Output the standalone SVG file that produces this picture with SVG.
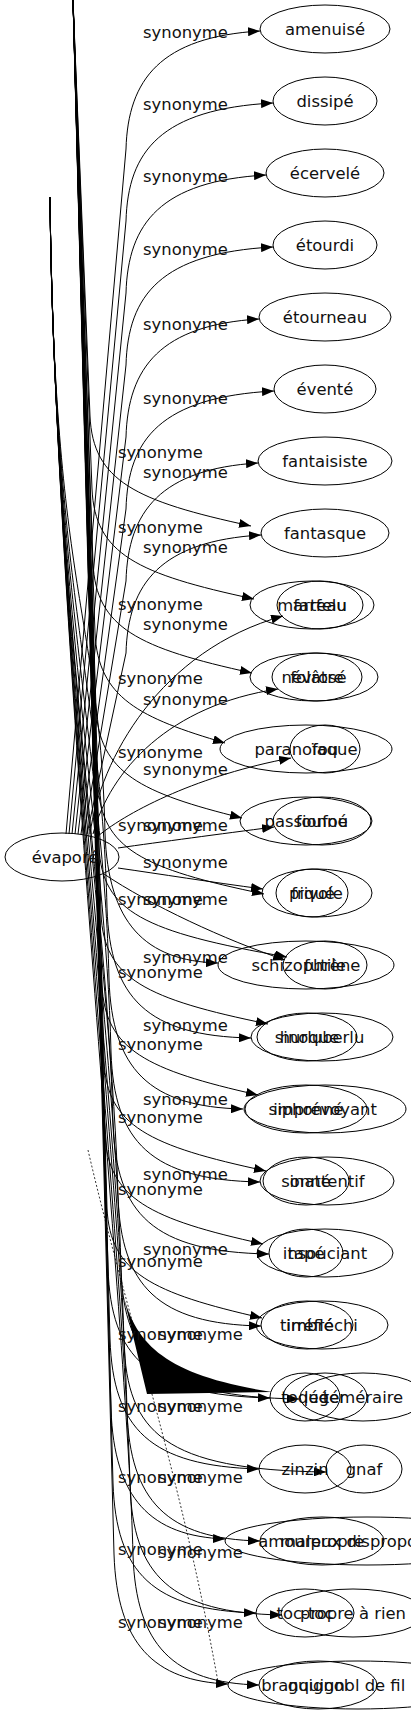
<svg xmlns="http://www.w3.org/2000/svg" width="411" height="1715" viewBox="0 0 411 1715">
<defs>
<marker id="a" markerWidth="12" markerHeight="9" refX="12" refY="4.5" orient="auto" markerUnits="userSpaceOnUse"><path d="M0,0 L12,4.5 L0,9 z" fill="#000"/></marker>
<style>
.e{fill:none;stroke:#000;stroke-width:1;marker-end:url(#a)}
.d{fill:none;stroke:#000;stroke-width:0.8;stroke-dasharray:2,2}
ellipse{fill:none;stroke:#000;stroke-width:1}
text{font-family:"DejaVu Sans","Liberation Sans",sans-serif;font-size:16.4px;fill:#111}
.n text{text-anchor:middle}
</style>
</defs>
<rect width="411" height="1715" fill="#fff"/>
<g id="edges">
<path class="e" d="M66,834 L126,149 C128,79 161,37 260,31"/>
<path class="e" d="M69,834 L126,221 C128,151 161,109 273,103"/>
<path class="e" d="M72,834 L126,293 C128,223 161,181 266,175"/>
<path class="e" d="M75,834 L126,365 C128,295 161,253 273,247"/>
<path class="e" d="M78,834 L126,437 C128,367 161,325 259,319"/>
<path class="e" d="M81,834 L126,509 C128,439 161,397 274,391"/>
<path class="e" d="M84,834 L126,581 C128,511 161,469 258,463"/>
<path class="e" d="M87,834 L126,653 C128,583 161,541 261,535"/>
<path class="e" d="M90,834 C100,760 160,650 283,616"/>
<path class="e" d="M93,834 C110,770 170,705 278,689"/>
<path class="e" d="M98,836 C130,810 200,775 291,758"/>
<path class="e" d="M118,848 C160,842 220,834 274,827"/>
<path class="e" d="M118,868 C160,874 210,882 263,889"/>
<path class="e" d="M104,874 C150,905 225,940 285,960"/>
<path class="e" d="M73,0 L90,416 C93,481 135,501 251,526"/>
<path class="e" d="M73,0 L92,489 C95,554 137,574 254,599"/>
<path class="e" d="M73,0 L93,563 C96,628 138,648 252,673"/>
<path class="e" d="M73,0 L95,633 C98,698 140,718 225,743"/>
<path class="e" d="M73,0 L96,708 C99,773 141,793 242,818"/>
<path class="e" d="M73,0 L98,784 C101,849 143,869 264,894"/>
<path class="e" d="M73,0 L99,847 C102,912 144,932 287,957"/>
<path class="e" d="M73,0 L101,914 C104,979 146,999 268,1024"/>
<path class="e" d="M73,0 L102,985 C105,1050 147,1070 258,1095"/>
<path class="e" d="M73,0 L104,1061 C107,1126 149,1146 266,1171"/>
<path class="e" d="M73,0 L105,1134 C108,1199 150,1219 263,1244"/>
<path class="e" d="M73,0 L107,1208 C110,1273 152,1293 262,1318"/>
<path class="e" d="M73,0 L108,1268 C111,1358 148,1395 270,1398"/>
<path class="e" d="M73,0 L110,1339 C113,1429 150,1466 259,1469"/>
<path class="e" d="M73,0 L111,1409 C114,1499 151,1536 225,1539"/>
<path class="e" d="M73,0 L113,1483 C116,1573 153,1610 256,1613"/>
<path class="e" d="M73,0 L114,1554 C117,1644 154,1681 228,1684"/>
<path class="e" d="M50,197 C54,600 100,613 105,833 C108,923 145,961 218,963"/>
<path class="e" d="M50,197 C54,600 102,688 107,908 C110,998 147,1036 251,1038"/>
<path class="e" d="M50,197 C54,600 104,759 109,979 C112,1069 149,1107 243,1109"/>
<path class="e" d="M50,197 C54,600 106,832 111,1052 C114,1142 151,1180 260,1182"/>
<path class="e" d="M50,197 C54,600 108,904 113,1124 C116,1214 153,1252 269,1254"/>
<path class="e" d="M50,197 C54,600 113,976 118,1196 C121,1286 158,1324 261,1326"/>
<path class="e" d="M50,197 C54,600 116,1049 121,1269 C124,1359 161,1397 299,1399"/>
<path class="e" d="M50,197 C54,600 119,1122 124,1342 C127,1432 164,1470 326,1472"/>
<path class="e" d="M50,197 C54,600 122,1191 127,1411 C130,1501 167,1539 260,1541"/>
<path class="e" d="M50,197 C54,600 125,1265 130,1485 C133,1575 170,1613 282,1615"/>
<path class="e" d="M50,197 C54,600 128,1335 133,1555 C136,1645 173,1683 259,1685"/>
<path d="M122,1290 C135,1345 165,1375 272,1392 L147,1394 Z" fill="#000"/>
<path class="d" d="M88,1150 C125,1310 180,1470 218,1682"/>
</g>
<g id="edge-labels">
<text x="143" y="38">synonyme</text>
<text x="143" y="110">synonyme</text>
<text x="143" y="182">synonyme</text>
<text x="143" y="255">synonyme</text>
<text x="143" y="330">synonyme</text>
<text x="143" y="404">synonyme</text>
<text x="143" y="478">synonyme</text>
<text x="143" y="553">synonyme</text>
<text x="143" y="630">synonyme</text>
<text x="143" y="705">synonyme</text>
<text x="143" y="775">synonyme</text>
<text x="143" y="831">synonyme</text>
<text x="143" y="868">synonyme</text>
<text x="143" y="905">synonyme</text>
<text x="143" y="963">synonyme</text>
<text x="143" y="1031">synonyme</text>
<text x="143" y="1105">synonyme</text>
<text x="143" y="1180">synonyme</text>
<text x="143" y="1255">synonyme</text>
<text x="118" y="458">synonyme</text>
<text x="118" y="533">synonyme</text>
<text x="118" y="610">synonyme</text>
<text x="118" y="684">synonyme</text>
<text x="118" y="758">synonyme</text>
<text x="118" y="831">synonyme</text>
<text x="118" y="905">synonyme</text>
<text x="118" y="978">synonyme</text>
<text x="118" y="1050">synonyme</text>
<text x="118" y="1123">synonyme</text>
<text x="118" y="1195">synonyme</text>
<text x="118" y="1267">synonyme</text>
<text x="118" y="1340">synonyme</text>
<text x="118" y="1412">synonyme</text>
<text x="118" y="1483">synonyme</text>
<text x="118" y="1555">synonyme</text>
<text x="118" y="1628">synonyme</text>
<text x="158" y="1340">synonyme</text>
<text x="158" y="1412">synonyme</text>
<text x="158" y="1483">synonyme</text>
<text x="158" y="1558">synonyme</text>
<text x="158" y="1628">synonyme</text>
</g>
<g id="evapore" class="n"><ellipse cx="62" cy="857" rx="57" ry="24"/><text x="65" y="863">évaporé</text></g>
<g id="amenuise" class="n"><ellipse cx="325" cy="29" rx="65" ry="24"/><text x="325" y="35">amenuisé</text></g>
<g id="dissipe" class="n"><ellipse cx="325" cy="101" rx="52" ry="24"/><text x="325" y="107">dissipé</text></g>
<g id="ecervele" class="n"><ellipse cx="325" cy="173" rx="59" ry="24"/><text x="325" y="179">écervelé</text></g>
<g id="etourdi" class="n"><ellipse cx="325" cy="245" rx="52" ry="24"/><text x="325" y="251">étourdi</text></g>
<g id="etourneau" class="n"><ellipse cx="325" cy="317" rx="66" ry="24"/><text x="325" y="323">étourneau</text></g>
<g id="evente" class="n"><ellipse cx="325" cy="389" rx="51" ry="24"/><text x="325" y="395">éventé</text></g>
<g id="fantaisiste" class="n"><ellipse cx="325" cy="461" rx="67" ry="24"/><text x="325" y="467">fantaisiste</text></g>
<g id="fantasque" class="n"><ellipse cx="325" cy="533" rx="64" ry="24"/><text x="325" y="539">fantasque</text></g>
<g id="marteau" class="n"><ellipse cx="312" cy="605" rx="62" ry="24"/><text x="312" y="611">marteau</text></g>
<g id="farfelu" class="n"><ellipse cx="320" cy="605" rx="43" ry="24"/><text x="320" y="611">farfelu</text></g>
<g id="nevrose" class="n"><ellipse cx="314" cy="677" rx="64" ry="24"/><text x="314" y="683">névrosé</text></g>
<g id="folatre" class="n"><ellipse cx="317" cy="677" rx="45" ry="24"/><text x="317" y="683">folâtre</text></g>
<g id="paranoiaque" class="n"><ellipse cx="306" cy="749" rx="86" ry="24"/><text x="306" y="755">paranoïaque</text></g>
<g id="fou" class="n"><ellipse cx="325" cy="749" rx="35" ry="24"/><text x="325" y="755">fou</text></g>
<g id="passionne" class="n"><ellipse cx="306" cy="821" rx="66" ry="24"/><text x="306" y="827">passionné</text></g>
<g id="foufou" class="n"><ellipse cx="322" cy="821" rx="49" ry="24"/><text x="322" y="827">foufou</text></g>
<g id="frivole" class="n"><ellipse cx="317" cy="893" rx="55" ry="24"/><text x="317" y="899">frivole</text></g>
<g id="pique" class="n"><ellipse cx="312" cy="893" rx="36" ry="24"/><text x="312" y="899">piqué</text></g>
<g id="schizophrene" class="n"><ellipse cx="306" cy="965" rx="88" ry="24"/><text x="306" y="971">schizophrène</text></g>
<g id="futile" class="n"><ellipse cx="325" cy="965" rx="42" ry="24"/><text x="325" y="971">futile</text></g>
<g id="hurluberlu" class="n"><ellipse cx="322" cy="1037" rx="71" ry="24"/><text x="322" y="1043">hurluberlu</text></g>
<g id="sinoque" class="n"><ellipse cx="307" cy="1037" rx="50" ry="24"/><text x="307" y="1043">sinoque</text></g>
<g id="imprevoyant" class="n"><ellipse cx="325" cy="1109" rx="81" ry="24"/><text x="325" y="1115">imprévoyant</text></g>
<g id="siphonne" class="n"><ellipse cx="306" cy="1109" rx="61" ry="24"/><text x="306" y="1115">siphonné</text></g>
<g id="inattentif" class="n"><ellipse cx="327" cy="1181" rx="67" ry="24"/><text x="327" y="1187">inattentif</text></g>
<g id="sonne" class="n"><ellipse cx="306" cy="1181" rx="43" ry="24"/><text x="306" y="1187">sonné</text></g>
<g id="insouciant" class="n"><ellipse cx="325" cy="1253" rx="68" ry="24"/><text x="325" y="1259">insouciant</text></g>
<g id="tape" class="n"><ellipse cx="306" cy="1253" rx="37" ry="24"/><text x="306" y="1259">tapé</text></g>
<g id="irreflechi" class="n"><ellipse cx="322" cy="1325" rx="66" ry="24"/><text x="322" y="1331">irréfléchi</text></g>
<g id="timbre" class="n"><ellipse cx="307" cy="1325" rx="46" ry="24"/><text x="307" y="1331">timbré</text></g>
<g id="toque" class="n"><ellipse cx="305" cy="1397" rx="35" ry="24"/><text x="305" y="1403">toqué</text></g>
<g id="leger" class="n"><ellipse cx="325" cy="1397" rx="42" ry="24"/><text x="325" y="1403">léger</text></g>
<g id="temeraire" class="n"><ellipse cx="363" cy="1397" rx="63" ry="24"/><text x="363" y="1403">téméraire</text></g>
<g id="zinzin" class="n"><ellipse cx="305" cy="1469" rx="46" ry="24"/><text x="305" y="1475">zinzin</text></g>
<g id="gnaf" class="n"><ellipse cx="364" cy="1469" rx="38" ry="24"/><text x="364" y="1475">gnaf</text></g>
<g id="amoureux" class="n"><ellipse cx="367" cy="1541" rx="142" ry="24"/><text x="367" y="1547">amoureux disproportionné</text></g>
<g id="malpropre" class="n"><ellipse cx="322" cy="1541" rx="62" ry="24"/><text x="322" y="1547">malpropre</text></g>
<g id="toctoc" class="n"><ellipse cx="305" cy="1613" rx="49" ry="24"/><text x="305" y="1619">toc-toc</text></g>
<g id="propre" class="n"><ellipse cx="353" cy="1613" rx="72" ry="24"/><text x="353" y="1619">propre à rien</text></g>
<g id="branquignol" class="n"><ellipse cx="358" cy="1685" rx="130" ry="24"/><text x="358" y="1691">branquignol de fil blanc</text></g>
<g id="guignol" class="n"><ellipse cx="318" cy="1685" rx="59" ry="24"/><text x="318" y="1691">guignol</text></g>
</svg>
